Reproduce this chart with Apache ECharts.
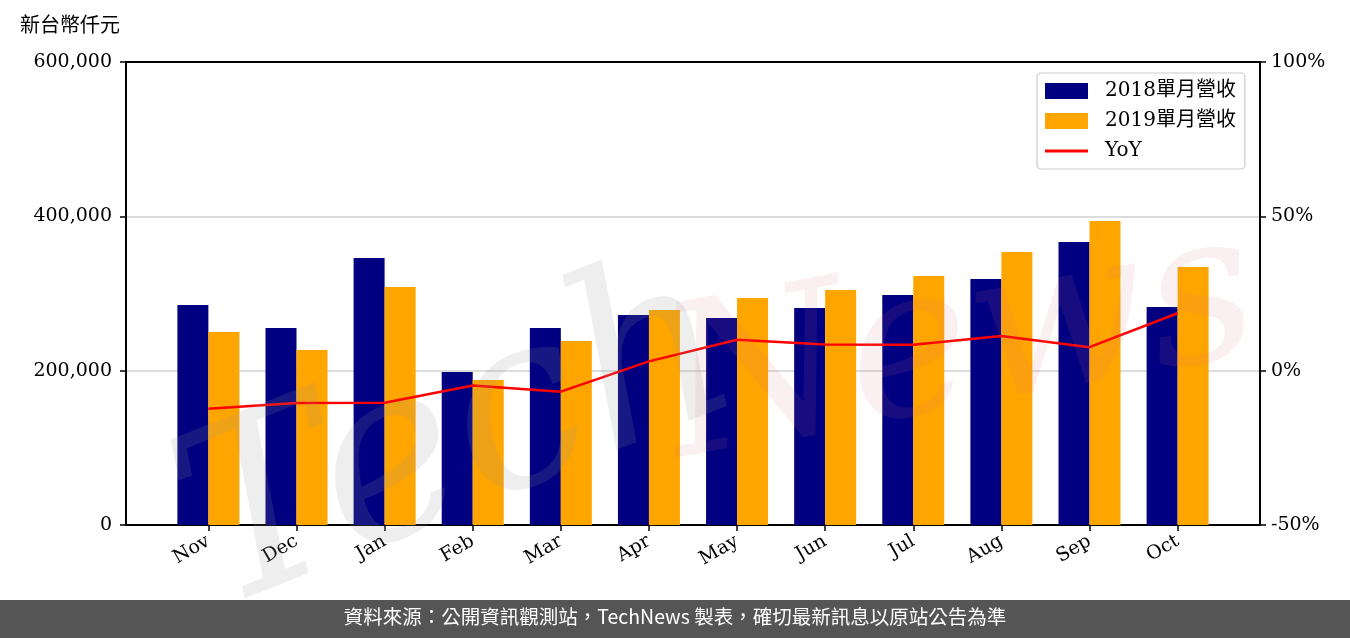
<!DOCTYPE html>
<html><head><meta charset="utf-8">
<script src="https://cdn.jsdelivr.net/npm/echarts@6/dist/echarts.min.js"></script>
<style>html,body{margin:0;padding:0;background:#fff}#c{width:1350px;height:638px}</style>
</head><body><div id="c"></div>
<script>
const months = ['Nov','Dec','Jan','Feb','Mar','Apr','May','Jun','Jul','Aug','Sep','Oct'];
const rev2018 = [285100, 255300, 346000, 198300, 255300, 272100, 268300, 281200, 298100, 318800, 366700, 282500];
const rev2019 = [250100, 226800, 308400, 187900, 238400, 278600, 294200, 304500, 322700, 353800, 394000, 334300];
const yoy = [-12.3, -10.5, -10.4, -4.8, -6.8, 3.0, 10.0, 8.5, 8.4, 11.2, 7.6, 18.6];
const leftTicks = [0, 200000, 400000, 600000];
const rightTicks = [-50, 0, 50, 100];

const serif = "'DejaVu Serif', 'Noto Sans CJK TC', serif";
const idx = months.map((m, i) => i);
const chart = echarts.init(document.getElementById('c'), null, {renderer: 'canvas'});
chart.setOption({
  animation: false,
  backgroundColor: '#fff',
  grid: {left: 126, right: 90, top: 62, bottom: 113, show: true, borderColor: '#000', borderWidth: 2, backgroundColor: 'transparent'},
  legend: {
    orient: 'vertical', left: 1037, top: 73,
    padding: [8, 9, 8, 8], itemWidth: 43, itemHeight: 16, itemGap: 10,
    borderColor: '#cccccc', borderWidth: 1.2, borderRadius: 4, backgroundColor: 'rgba(255,255,255,0.85)',
    textStyle: {fontFamily: serif, fontSize: 20, lineHeight: 16, color: '#000', padding: [0, 0, 0, 12]},
    data: [
      {name: '2018單月營收', icon: 'rect'},
      {name: '2019單月營收', icon: 'rect'},
      {name: 'YoY', icon: 'path://M0,0 L0.01,0 M0,6.5 L43,6.5 L43,9.5 L0,9.5 Z M0,16 L0.01,16', itemStyle: {color: '#ff0000'}}
    ]
  },
  xAxis: {
    type: 'value', min: -0.935, max: 11.935,
    axisLine: {show: true, onZero: false, lineStyle: {color: '#000', width: 2}},
    axisTick: {show: true, length: 6, lineStyle: {color: '#000', width: 1.5}, customValues: idx},
    axisLabel: {customValues: idx, rotate: 30, fontFamily: serif, fontSize: 19, color: '#000', margin: 15,
      formatter: v => months[Math.round(v)]},
    splitLine: {show: false}
  },
  yAxis: [
    {type: 'value', min: 0, max: 600000, interval: 200000,
     axisLine: {show: true, onZero: false, lineStyle: {color: '#000', width: 2}},
     axisTick: {show: true, length: 6, lineStyle: {color: '#000', width: 1.5}},
     axisLabel: {fontFamily: serif, fontSize: 19, color: '#000', margin: 14,
       formatter: v => v.toLocaleString('en-US')},
     splitLine: {show: true, showMinLine: false, showMaxLine: false, lineStyle: {color: '#d0d0d0', width: 1.5}}},
    {type: 'value', min: -50, max: 100, interval: 50, position: 'right',
     axisLine: {show: true, onZero: false, lineStyle: {color: '#000', width: 2}},
     axisTick: {show: true, length: 6, lineStyle: {color: '#000', width: 1.5}},
     axisLabel: {fontFamily: serif, fontSize: 19, color: '#000', margin: 11, formatter: '{value}%'},
     splitLine: {show: false}}
  ],
  series: [
    {name: '2018單月營收', type: 'bar', barWidth: 31, barGap: '0%', itemStyle: {color: '#000080'},
     data: rev2018.map((v, i) => [i, v])},
    {name: '2019單月營收', type: 'bar', barWidth: 31, barGap: '0%', itemStyle: {color: '#FFA500'},
     data: rev2019.map((v, i) => [i, v])},
    {name: 'YoY', type: 'line', yAxisIndex: 1, symbol: 'none', z: 5,
     lineStyle: {color: '#ff0000', width: 2.5}, itemStyle: {color: '#ff0000'},
     data: yoy.map((v, i) => [i, v])}
  ],
  graphic: [
    {type: 'text', left: 20, top: 14, style: {text: '新台幣仟元', fontFamily: "'Noto Sans CJK TC'", fontSize: 20, fill: '#000'}},
    {type: 'text', silent: true, z: 100, x: 150, y: 440, rotation: 0.38,
     style: {text: 'Tech', fontFamily: "'DejaVu Serif'", fontStyle: 'italic', fontSize: 240, fill: 'rgba(150,150,150,0.16)', textBaseline: 'bottom'}},
    {type: 'text', silent: true, z: 100, x: 650, y: 300, rotation: 0.18,
     style: {text: 'News', fontFamily: "'DejaVu Serif'", fontStyle: 'italic', fontSize: 210, fill: 'rgba(220,120,130,0.11)', textBaseline: 'bottom'}},
    {type: 'rect', left: 0, top: 600, shape: {width: 1350, height: 38}, style: {fill: '#555555'}},
    {type: 'text', left: 'center', top: 607, style: {text: '資料來源：公開資訊觀測站，TechNews 製表，確切最新訊息以原站公告為準', fontFamily: "'Noto Sans CJK TC'", fontSize: 19.5, fill: '#fff'}}
  ]
});
</script></body></html>
